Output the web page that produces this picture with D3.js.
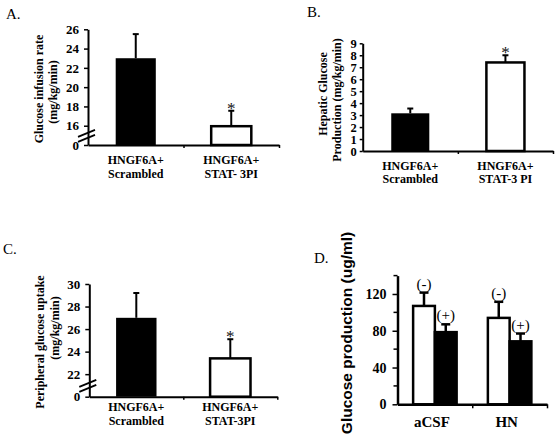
<!DOCTYPE html>
<html><head><meta charset="utf-8">
<script src="https://cdn.jsdelivr.net/npm/d3@7"></script>
<style>
html,body{margin:0;padding:0;background:#fff;}
svg{display:block;}
</style></head>
<body>
<svg id="chart" width="558" height="434"></svg>
<script>
// ---------- data ----------
const labelsA = [["HNGF6A+", "Scrambled"], ["HNGF6A+", "STAT- 3PI"]];
const meansA = [23.0, 15.95];
const errsA = [2.5, 1.6];
const fillsA = ["#000", "#fff"];
const tickValsA = [14, 16, 18, 20, 22, 24, 26];
const tickLabelsA = ["0", "16", "18", "20", "22", "24", "26"];

const labelsB = [["HNGF6A+", "Scrambled"], ["HNGF6A+", "STAT-3 PI"]];
const meansB = [3.15, 7.4];
const errsB = [0.4, 0.6];
const fillsB = ["#000", "#fff"];
const tickValsB = [0, 1, 2, 3, 4, 5, 6, 7, 8, 9];
const tickLabelsB = ["0", "1", "2", "3", "4", "5", "6", "7", "8", "9"];

const labelsC = [["HNGF6A+", "Scrambled"], ["HNGF6A+", "STAT-3PI"]];
const meansC = [27.0, 23.4];
const errsC = [2.2, 1.7];
const fillsC = ["#000", "#fff"];
const tickValsC = [20, 22, 24, 26, 28, 30];
const tickLabelsC = ["0", "22", "24", "26", "28", "30"];

const groupsD = ["aCSF", "HN"];
const seriesD = ["(-)", "(+)"];
const meansDminus = [107, 94];
const errsDminus = [14.5, 17.5];
const meansDplus = [78.5, 68.5];
const errsDplus = [8.5, 8.5];
const fillsD = ["#fff", "#000"];
const tickValsD = [0, 40, 80, 120];
const minorTicksD = [20, 60, 100, 140];

// ---------- drawing ----------
const svg = d3.select("#chart");
const SERIF = "'Liberation Serif','Times New Roman',serif";
const SANS = "'Liberation Sans',Arial,sans-serif";

function panelLetter(txt, x, y) {
  svg.append("text").attr("x", x).attr("y", y).text(txt)
    .style("font-family", SERIF).style("font-size", "15px").attr("fill", "#000");
}

function styleAxis(g, w) {
  g.select(".domain").attr("stroke", "#000").attr("stroke-width", w || 2);
  g.selectAll(".tick line").attr("stroke", "#000").attr("stroke-width", 1.5);
}

function simplePanel(cfg) {
  const x = d3.scaleBand().domain(d3.range(cfg.means.length))
    .range([cfg.x0, cfg.x1]).paddingInner(cfg.pad).paddingOuter(cfg.pad / 2);
  const y = d3.scaleLinear().domain(cfg.ydom).range([cfg.yb, cfg.yt]);
  const g = svg.append("g");

  // bars
  g.selectAll("rect.bar").data(cfg.means).join("rect")
    .attr("x", (d, i) => x(i)).attr("width", x.bandwidth())
    .attr("y", d => y(d)).attr("height", d => y(cfg.ydom[0]) - y(d))
    .attr("fill", (d, i) => cfg.fills[i])
    .attr("stroke", "#000").attr("stroke-width", (d, i) => cfg.fills[i] === "#fff" ? 2.5 : 0);

  // error bars
  cfg.means.forEach((m, i) => {
    const cx = x(i) + x.bandwidth() / 2;
    g.append("line").attr("x1", cx).attr("x2", cx)
      .attr("y1", y(m)).attr("y2", y(m + cfg.errs[i]))
      .attr("stroke", "#000").attr("stroke-width", 2);
    g.append("line").attr("x1", cx - 3).attr("x2", cx + 3)
      .attr("y1", y(m + cfg.errs[i])).attr("y2", y(m + cfg.errs[i]))
      .attr("stroke", "#000").attr("stroke-width", 2);
    if (i === cfg.starIndex) {
      g.append("text").attr("x", cx).attr("y", y(m + cfg.errs[i]) + 3)
        .attr("text-anchor", "middle").text("*")
        .style("font-family", SERIF).style("font-size", "17px").attr("fill", "#111");
    }
    cfg.labels[i].forEach((t, k) => {
      g.append("text").attr("x", cx).attr("y", cfg.lab0 + k * cfg.labDy)
        .attr("text-anchor", "middle").text(t)
        .style("font-family", SERIF).style("font-weight", "bold").style("font-size", "12px");
    });
  });

  // y axis
  const ya = g.append("g").attr("transform", `translate(${cfg.x0},0)`)
    .call(d3.axisLeft(y).tickValues(cfg.tickVals)
      .tickFormat((d, i) => cfg.tickLabels[i]).tickSize(cfg.tickSize).tickSizeOuter(0).tickPadding(cfg.tickPad));
  styleAxis(ya);
  ya.selectAll("text").style("font-family", SERIF).style("font-weight", "bold")
    .style("font-size", cfg.tickFont).attr("fill", "#000");

  // x axis (baseline with ticks at band boundaries)
  const xt = d3.scaleLinear().domain([0, cfg.means.length]).range([cfg.x0, cfg.x1]);
  const xa = g.append("g").attr("transform", `translate(0,${cfg.yb})`)
    .call(d3.axisBottom(xt).tickValues(d3.range(1, cfg.means.length + 1))
      .tickFormat("").tickSize(3).tickSizeOuter(0));
  styleAxis(xa);

  // axis break
  if (cfg.brk) {
    const yb1 = (y(cfg.tickVals[0]) + y(cfg.tickVals[1])) / 2;
    [-2.5, 2.5].forEach(o => {
      g.append("line")
        .attr("x1", cfg.x0 - 10).attr("y1", yb1 + o + 4)
        .attr("x2", cfg.x0 + 7).attr("y2", yb1 + o - 3)
        .attr("stroke", "#000").attr("stroke-width", 1.8);
    });
  }

  // y title
  cfg.titles.forEach(tt => {
    g.append("text").attr("transform", `translate(${tt.x},${tt.y}) rotate(-90)`)
      .attr("text-anchor", "middle").text(tt.t)
      .style("font-family", SERIF).style("font-weight", "bold").style("font-size", "12px");
  });
}

panelLetter("A.", 6, 19);
simplePanel({
  means: meansA, errs: errsA, fills: fillsA, labels: labelsA,
  x0: 88, x1: 279, pad: 0.58, ydom: [14, 26], yb: 145, yt: 29.3,
  tickVals: tickValsA, tickLabels: tickLabelsA, tickSize: 4, tickPad: 5, tickFont: "13px",
  starIndex: 1, lab0: 164, labDy: 13.8, brk: true,
  titles: [{t: "Glucose infusion rate", x: 43, y: 89}, {t: "(mg/kg/min)", x: 57, y: 92}]
});

panelLetter("B.", 307, 17);
simplePanel({
  means: meansB, errs: errsB, fills: fillsB, labels: labelsB,
  x0: 362.7, x1: 553, pad: 0.6, ydom: [0, 9], yb: 151, yt: 43.3,
  tickVals: tickValsB, tickLabels: tickLabelsB, tickSize: 3, tickPad: 3, tickFont: "12.5px",
  starIndex: 1, lab0: 169.5, labDy: 13.5, brk: false,
  titles: [{t: "Hepatic Glucose", x: 327, y: 94}, {t: "Production (mg/kg/min)", x: 341, y: 100}]
});

panelLetter("C.", 3, 253.5);
simplePanel({
  means: meansC, errs: errsC, fills: fillsC, labels: labelsC,
  x0: 89.3, x1: 277.3, pad: 0.57, ydom: [20, 30], yb: 396.7, yt: 284,
  tickVals: tickValsC, tickLabels: tickLabelsC, tickSize: 4, tickPad: 5, tickFont: "13px",
  starIndex: 1, lab0: 410.5, labDy: 14.5, brk: true,
  titles: [{t: "Peripheral glucose uptake", x: 44, y: 342}, {t: "(mg/kg/min)", x: 59, y: 328}]
});

// ---------- panel D ----------
panelLetter("D.", 314, 263);
(function () {
  const x0 = 397.5, x1 = 547, yb = 404.3, yt = 275.6;
  const xg = d3.scaleBand().domain(groupsD).range([x0, x1]).paddingInner(0.418).paddingOuter(0.209);
  const xs = d3.scaleBand().domain(seriesD).range([0, xg.bandwidth()]);
  const y = d3.scaleLinear().domain([0, 140]).range([yb, yt]);
  const g = svg.append("g");
  const means = [meansDminus, meansDplus];
  const errs = [errsDminus, errsDplus];

  groupsD.forEach((grp, gi) => {
    seriesD.forEach((s, si) => {
      const m = means[si][gi], e = errs[si][gi];
      const bx = xg(grp) + xs(s);
      const cx = bx + xs.bandwidth() / 2;
      g.append("line").attr("x1", cx).attr("x2", cx).attr("y1", y(m)).attr("y2", y(m + e))
        .attr("stroke", "#000").attr("stroke-width", 2.5);
      g.append("line").attr("x1", cx - 4.5).attr("x2", cx + 4.5).attr("y1", y(m + e)).attr("y2", y(m + e))
        .attr("stroke", "#000").attr("stroke-width", 2.5);
      g.append("rect").attr("x", bx).attr("width", xs.bandwidth())
        .attr("y", y(m)).attr("height", yb - y(m))
        .attr("fill", fillsD[si]).attr("stroke", "#000").attr("stroke-width", 2.5);
      g.append("text").attr("x", cx).attr("y", y(m + e) - 4)
        .attr("text-anchor", "middle").text(s)
        .style("font-family", SERIF).style("font-size", "15px");
    });
    g.append("text").attr("x", xg(grp) + xg.bandwidth() / 2 - 3).attr("y", 427)
      .attr("text-anchor", "middle").text(grp)
      .style("font-family", SERIF).style("font-weight", "bold").style("font-size", "15px");
  });

  const ya = g.append("g").attr("transform", `translate(${x0},0)`)
    .call(d3.axisLeft(y).tickValues(tickValsD).tickSize(5).tickSizeOuter(0).tickPadding(6));
  styleAxis(ya, 2.5);
  ya.selectAll("text").style("font-family", SERIF).style("font-weight", "bold")
    .style("font-size", "14px").attr("fill", "#000");
  ya.append("g").selectAll("line").data(minorTicksD).join("line")
    .attr("x1", -4).attr("x2", 0).attr("y1", d => y(d)).attr("y2", d => y(d))
    .attr("stroke", "#000").attr("stroke-width", 1.5);

  const xt = d3.scaleLinear().domain([0, groupsD.length]).range([x0, x1]);
  const xa = g.append("g").attr("transform", `translate(0,${yb})`)
    .call(d3.axisBottom(xt).tickValues([1, 2]).tickFormat("").tickSize(4).tickSizeOuter(0));
  styleAxis(xa, 2.5);

  g.append("text").attr("transform", "translate(352,333) rotate(-90)")
    .attr("text-anchor", "middle").text("Glucose production (ug/ml)")
    .style("font-family", SANS).style("font-weight", "bold").style("font-size", "15.5px");
})();
</script>
</body></html>
